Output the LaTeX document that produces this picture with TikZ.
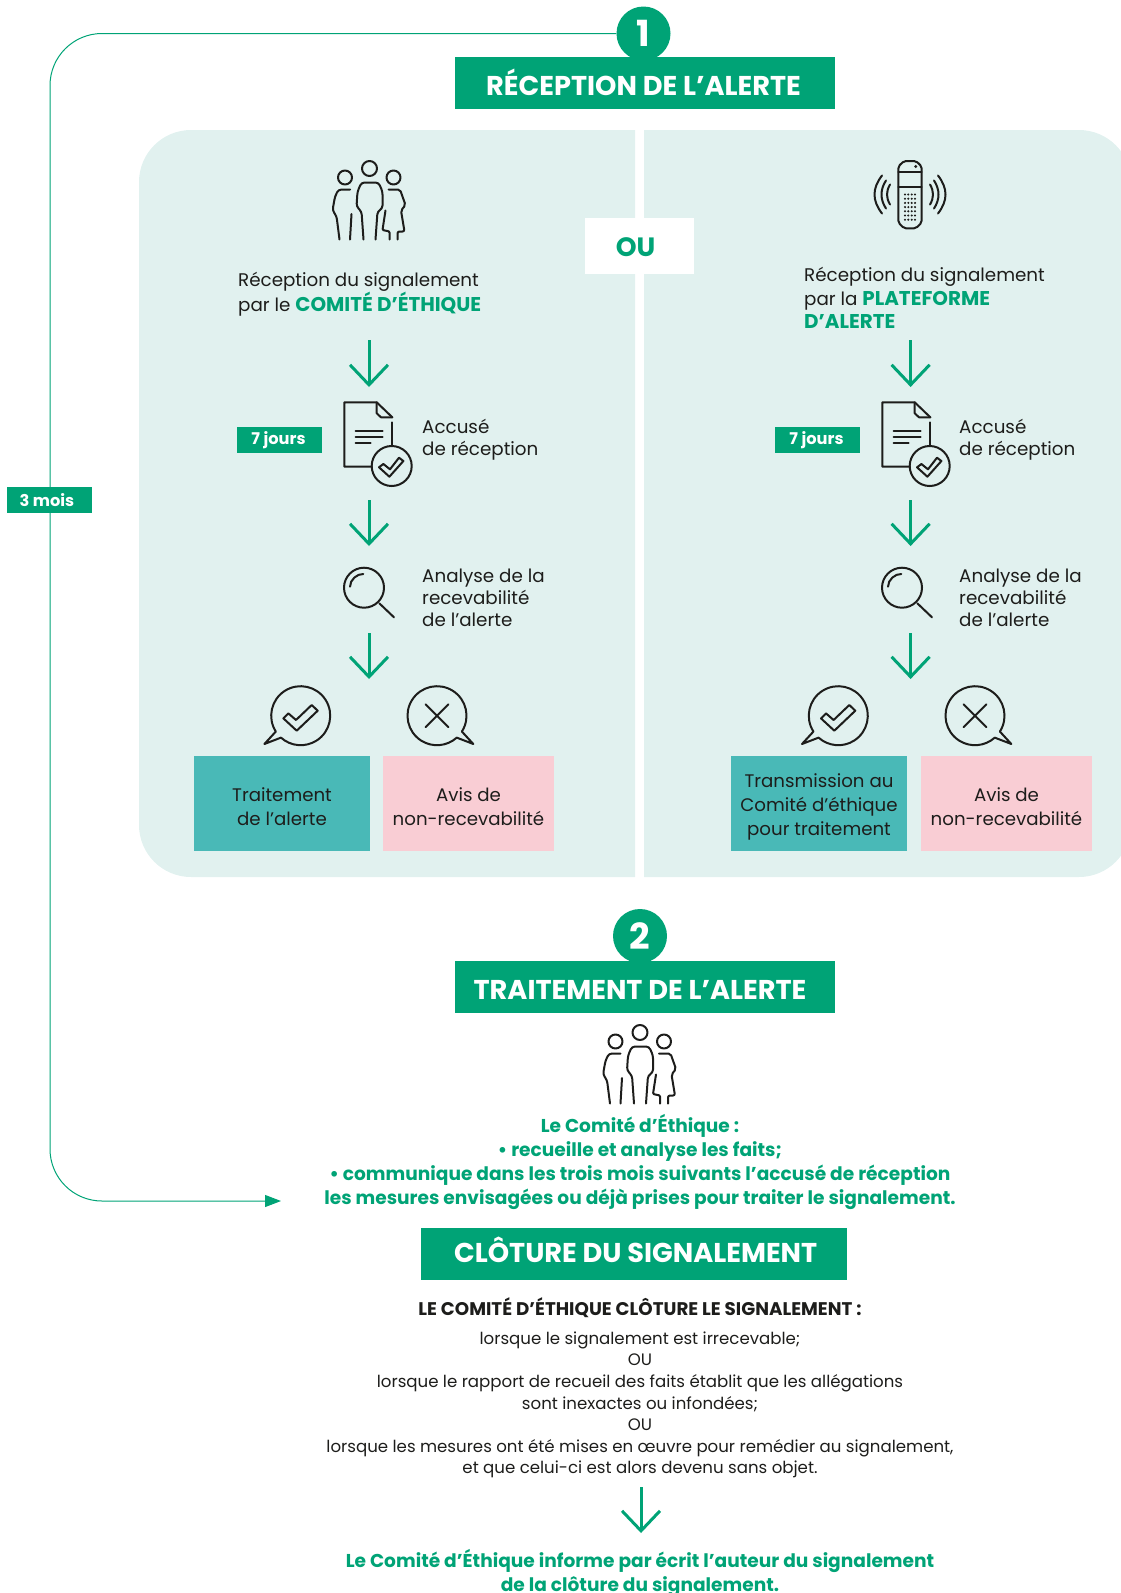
\documentclass[tikz,border=0pt]{standalone}
\usepackage{fontspec}
\setmainfont{Poppins}
\usepackage{xcolor}
\usetikzlibrary{arrows.meta}
\usetikzlibrary{positioning}
\usetikzlibrary{calc}

\definecolor{maingreen}{HTML}{00A376}
\definecolor{panelbg}{HTML}{E1F1EF}
\definecolor{tealbox}{HTML}{49B9B7}
\definecolor{pinkbox}{HTML}{F9CDD4}
\definecolor{inkblack}{HTML}{1D1D1B}

\newcommand{\greenbold}[1]{\textcolor{maingreen}{\fontsize{19.9}{23.5}\selectfont\bfseries #1}}

% icons, drawn around their main point
\newcommand{\familyicon}[2]{
\begin{scope}[shift={(#1,#2)}, icon]
\draw (0,0) circle (7.5);
\draw (-24.5,9) circle (7);
\draw (24,9) circle (7);
\draw[rounded corners=3pt] (-6,71) -- (-8,43) -- (-13,38) -- (-12,23) -- (-8,14) -- (9,14) -- (13,23) -- (13,40) -- (8,43) -- (6,71);
\draw[rounded corners=3pt] (-19.5,21) -- (-31,21) -- (-34.5,28) -- (-37,42) -- (-33,47.5) -- (-30,71);
\draw (-18,45.5) -- (-19.5,71);
\draw[rounded corners=2pt] (19,21) -- (30.5,21) -- (36,36.5) -- (31.5,42) -- (35,63) -- (28,63) -- (28,71);
\draw[rounded corners=1pt] (16,42) -- (13,61.5) -- (20,63) -- (20,71);
\end{scope}
}
\newcommand{\checkpath}{(-17.3,2.7) -- (-12.3,-2.3) -- (-4.7,4.3) -- (11,-10.7) -- (17,-5) -- (-4,15) -- cycle}
\newcommand{\docicon}[2]{
\begin{scope}[shift={(#1,#2)}, icon]
\draw (48,20) -- (48,42.7);
\draw (27.4,64.4) -- (0,64.4) -- (0,0) -- (32.4,0) -- (48,15);
\draw (32.4,0) -- (32.4,11) -- (36.7,15) -- (48,15);
\draw (11.4,28.7) -- (38.4,28.7);
\draw (11.4,34.7) -- (38.4,34.7);
\draw (11.4,41) -- (26.4,41);
\draw (47.4,63.7) circle (20);
\draw[shift={(47.4,63.7)}] (-12.7,1.3) -- (-8.3,-2) -- (-1.7,3.3) -- (7.3,-8.3) -- (11.7,-5) -- (-2.3,10.7) -- cycle;
\end{scope}
}
\newcommand{\magicon}[2]{
\begin{scope}[shift={(#1,#2)}, icon]
\draw (0,0) circle (20);
\draw (15.3,15.6) -- (30,29.6);
\draw (-14,-1) .. controls (-14,-8) and (-7,-14) .. (-0.7,-13.7);
\end{scope}
}
\newcommand{\bubbleicon}[3]{
\begin{scope}[shift={(#1,#2)}, xscale=#3, icon]
\draw (147.5:29.5) arc (147.5:492:29.5) -- (-36.3,28.3) -- cycle;
\end{scope}
}
\newcommand{\phoneicon}[2]{
\begin{scope}[shift={(#1,#2)}, icon]
\draw[rounded corners=2pt] (-11.7,-28) -- (-6,-33.5) -- (6,-33.5) -- (11.7,-28) -- (11.7,28) -- (6,33.8) -- (-6,33.8) -- (-11.7,28) -- cycle;
\draw (-11.7,-22.5) -- (11.7,-22.5);
\draw (-11.7,-7.5) -- (11.7,-7.5);
\fill[inkblack] (5.7,-28) circle (1.6);
\foreach \col in {-5,-1.7,1.7,5}
  \foreach \row in {0,4.2,...,26}
    \fill[inkblack] (\col,\row) circle (1.15);
\draw (-20,-10) .. controls (-24,-3) and (-24,3) .. (-20,10);
\draw (-24,-14) .. controls (-30,-5) and (-30,5) .. (-24,14);
\draw (-28,-19) .. controls (-38,-6) and (-38,6) .. (-28,19);
\draw (20,-10) .. controls (24,-3) and (24,3) .. (20,10);
\draw (24,-14) .. controls (30,-5) and (30,5) .. (24,14);
\draw (28,-19) .. controls (38,-6) and (38,6) .. (28,19);
\end{scope}
}

\begin{document}
\begin{tikzpicture}[x=1pt,y=-1pt]

% used shapes
\tikzset{icon/.style={line width=2pt, draw=inkblack, line join=round, line cap=round}}
\tikzstyle{numdisc} = [circle, fill=maingreen, text=white, inner sep=0pt, minimum size=54pt, font=\fontsize{36}{40}\selectfont\bfseries]
\tikzstyle{titlebar} = [rectangle, fill=maingreen, inner sep=0pt, minimum height=52pt]
\tikzstyle{titletext} = [text=white, inner sep=0pt, font=\fontsize{27.2}{30}\selectfont\bfseries]
\tikzstyle{daystag} = [rectangle, fill=maingreen, text=white, inner sep=0pt, minimum width=85pt, minimum height=26pt, font=\fontsize{16.2}{18}\selectfont\bfseries]
\tikzstyle{bodytext} = [align=left, anchor=west, inner sep=0pt, text=inkblack, font=\fontsize{18.3}{22}\selectfont]
\tikzstyle{tealblock} = [rectangle, fill=tealbox, inner sep=0pt, minimum height=95pt, minimum width=176pt]
\tikzstyle{pinkblock} = [rectangle, fill=pinkbox, inner sep=0pt, minimum height=95pt, minimum width=171pt]
\tikzstyle{blocktext} = [align=center, inner sep=0pt, text=inkblack, font=\fontsize{18.2}{24}\selectfont]
\tikzstyle{greentext} = [align=center, inner sep=0pt, text=maingreen, font=\fontsize{18.6}{23.8}\selectfont\bfseries]
\tikzstyle{downarrow} = [-{Straight Barb[length=20pt,width=38pt,line width=3pt]}, draw=maingreen, line width=3pt]

\useasboundingbox (0,0) rectangle (1121,1593);

% panels
\fill[panelbg] (635,130) [rounded corners=52pt] -- (139,130) -- (139,877) [sharp corners] -- (635,877) -- cycle;
\fill[panelbg] (644,130) [rounded corners=52pt] -- (1131,130) -- (1131,877) [sharp corners] -- (644,877) -- cycle;

\node [rectangle, fill=white, minimum width=109pt, minimum height=56pt, inner sep=0pt] (ouplate) at (639.5,245.5) {};
\node [inner sep=0pt, text=maingreen, font=\fontsize{26.5}{30}\selectfont\bfseries] (outext) at (635.5,247.5) {OU};

% step one
\node [numdisc] (one) at (643.5,33.5) {1};
\node [titlebar, minimum width=380pt] (receptionbar) at (645,83) {};
\node [titletext] (receptiontext) at (643.5,82) {RÉCEPTION DE L’ALERTE};

\coordinate (loopleft) at (50,600);
\coordinate (loopend) at (281,1201);
\draw[draw=maingreen, line width=1pt, rounded corners=52pt, -{Triangle[length=16pt,width=12pt]}] (one.west) -| (loopleft) |- (loopend);
\node [daystag] (threemonths) at (49.5,500) {\hspace*{-5pt}3 mois};

% left side
\familyicon{369.5}{168.5}
\node [bodytext, font=\fontsize{18.3}{23.5}\selectfont] (leftintro) at (238,294.5) {Réception du signalement\\par le \greenbold{COMITÉ D’ÉTHIQUE}};
\coordinate (la1) at (369,340);
\coordinate (la2) at (369,387);
\draw[downarrow] (la1) -- (la2);
\node [daystag] (leftdays) at (279.5,440) {\hspace*{-2pt}7 jours};
\docicon{344.3}{402.3}
\node [bodytext] (leftack) at (422,440) {Accusé\\de réception};
\coordinate (la3) at (369,500);
\coordinate (la4) at (369,546);
\draw[downarrow] (la3) -- (la4);
\magicon{364}{587.7}
\node [bodytext] (leftcheck) at (422,598) {Analyse de la\\recevabilité\\de l’alerte};
\coordinate (la5) at (369,633);
\coordinate (la6) at (369,679);
\draw[downarrow] (la5) -- (la6);
\bubbleicon{300.7}{715.7}{1}
\draw[icon, shift={(300.7,715.7)}] \checkpath;
\bubbleicon{437}{715.7}{-1}
\draw[icon] (425.5,704.2) -- (448.5,727.2);
\draw[icon] (448.5,704.2) -- (425.5,727.2);
\node [tealblock] (lefttreat) at (282,803.5) {};
\node [blocktext] (lefttreattext) at (282,806.5) {Traitement\\de l’alerte};
\node [pinkblock] (leftrefuse) at (468.5,803.5) {};
\node [blocktext] (leftrefusetext) at (468.5,806.5) {Avis de\\non-recevabilité};

% right side
\phoneicon{910}{194.5}
\node [bodytext, font=\fontsize{18.3}{23.5}\selectfont] (rightintro) at (804,298) {Réception du signalement\\par la \greenbold{PLATEFORME}\\\greenbold{D’ALERTE}};
\coordinate (ra1) at (910.6,340);
\coordinate (ra2) at (910.6,387);
\draw[downarrow] (ra1) -- (ra2);
\node [daystag] (rightdays) at (817.5,440) {\hspace*{-2pt}7 jours};
\docicon{882.3}{402.3}
\node [bodytext] (rightack) at (959,440) {Accusé\\de réception};
\coordinate (ra3) at (910.6,500);
\coordinate (ra4) at (910.6,546);
\draw[downarrow] (ra3) -- (ra4);
\magicon{902}{587.7}
\node [bodytext] (rightcheck) at (959,598) {Analyse de la\\recevabilité\\de l’alerte};
\coordinate (ra5) at (910.6,633);
\coordinate (ra6) at (910.6,679);
\draw[downarrow] (ra5) -- (ra6);
\bubbleicon{838.3}{715.7}{1}
\draw[icon, shift={(838.3,715.7)}] \checkpath;
\bubbleicon{975}{715.7}{-1}
\draw[icon] (963.5,704.2) -- (986.5,727.2);
\draw[icon] (986.5,704.2) -- (963.5,727.2);
\node [tealblock] (righttreat) at (819,803.5) {};
\node [blocktext] (righttreattext) at (819,806.5) {Transmission au\\Comité d’éthique\\pour traitement};
\node [pinkblock] (rightrefuse) at (1006.5,803.5) {};
\node [blocktext] (rightrefusetext) at (1006.5,806.5) {Avis de\\non-recevabilité};

% step two
\node [numdisc] (two) at (640,936) {2};
\node [titlebar, minimum width=380pt] (treatmentbar) at (645,987) {};
\node [titletext] (treatmenttext) at (640,990) {TRAITEMENT DE L’ALERTE};
\familyicon{640}{1032.5}
\node [greentext] (committee) at (640,1162) {Le Comité d’Éthique :\\• recueille et analyse les faits;\\• communique dans les trois mois suivants l’accusé de réception\\les mesures envisagées ou déjà prises pour traiter le signalement.};

% closing
\node [titlebar, minimum width=426pt] (closingbar) at (634,1254) {};
\node [titletext] (closingtext) at (635.7,1249.5) {CLÔTURE DU SIGNALEMENT};
\node [inner sep=0pt, text=inkblack, font=\fontsize{18.3}{20}\selectfont\bfseries] (closinghead) at (640,1308) {LE COMITÉ D’ÉTHIQUE CLÔTURE LE SIGNALEMENT :};
\node [align=center, inner sep=0pt, text=inkblack, font=\fontsize{16.6}{21.6}\selectfont] (closingcases) at (640,1405) {lorsque le signalement est irrecevable;\\OU\\lorsque le rapport de recueil des faits établit que les allégations\\sont inexactes ou infondées;\\OU\\lorsque les mesures ont été mises en œuvre pour remédier au signalement,\\et que celui-ci est alors devenu sans objet.};
\coordinate (ca1) at (641,1487);
\coordinate (ca2) at (641,1533);
\draw[downarrow] (ca1) -- (ca2);
\node [greentext, font=\fontsize{18.6}{23.5}\selectfont\bfseries] (authorinfo) at (640,1573) {Le Comité d’Éthique informe par écrit l’auteur du signalement\\de la clôture du signalement.};

\end{tikzpicture}
\end{document}
